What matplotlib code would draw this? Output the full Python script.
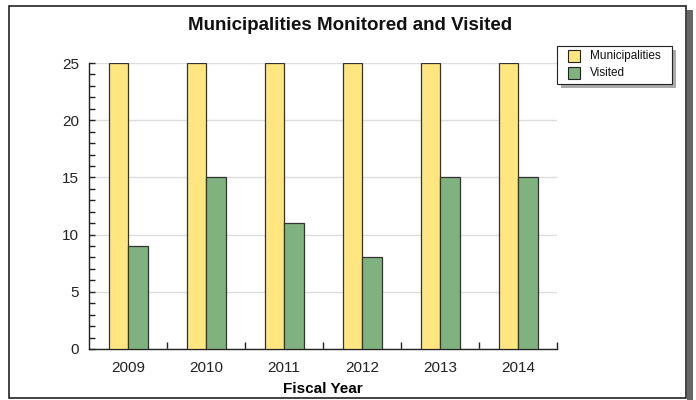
import numpy as np
import matplotlib
matplotlib.use("Agg")
import matplotlib.pyplot as plt
from matplotlib.patches import Rectangle

plt.rcParams['font.family'] = ['Liberation Sans', 'DejaVu Sans']

years = ['2009', '2010', '2011', '2012', '2013', '2014']
municipalities = [25, 25, 25, 25, 25, 25]
visited = [9, 15, 11, 8, 15, 15]

yellow = '#FFE680'
green = '#80B27F'

W, H = 696, 400
fig = plt.figure(figsize=(W / 100, H / 100), dpi=100)

# outer frame + shadow
fig.patches.append(Rectangle((687 / W, 0), 6 / W, 1 - 10 / H, transform=fig.transFigure,
                             facecolor='#666666', edgecolor='none', zorder=0))
fig.patches.append(Rectangle((9 / W, 2 / H), 677 / W, 392 / H, transform=fig.transFigure,
                             facecolor='white', edgecolor='#222222', lw=1.2, zorder=1))

ax = fig.add_axes([89 / W, 1 - 349 / H, 468 / W, 286 / H])
ax.set_zorder(2)
ax.patch.set_alpha(0)

x = np.arange(len(years))
w = 0.25
ax.bar(x - w / 2, municipalities, w, color=yellow, edgecolor='#333333', lw=0.9,
       label='Municipalities', zorder=3)
ax.bar(x + w / 2, visited, w, color=green, edgecolor='#333333', lw=0.9,
       label='Visited', zorder=3)

ax.set_xlim(-0.5, len(years) - 0.5)
ax.set_ylim(0, 25)
ax.set_yticks(np.arange(0, 26, 5))
ax.set_yticks(np.arange(0, 26, 1), minor=True)
ax.set_xticks(x)
ax.set_xticklabels(years)
ax.set_xticks(np.arange(0.5, len(years)), minor=True)
ax.tick_params(axis='x', which='major', length=0, labelsize=11, pad=9, colors='#222222')
ax.tick_params(axis='x', which='minor', direction='in', length=5, width=1, color='#222222')
ax.tick_params(axis='y', which='both', direction='in', length=4, width=1, color='#222222',
               labelsize=11, pad=7, labelcolor='#222222')
ax.grid(axis='y', color='#dddddd', lw=1, zorder=0)
for s in ['top', 'right']:
    ax.spines[s].set_visible(False)
for s in ['left', 'bottom']:
    ax.spines[s].set_color('#222222')
    ax.spines[s].set_linewidth(1)

ax.set_xlabel('Fiscal Year', fontsize=11, fontweight='bold', labelpad=5)
fig.text(350 / W, 1 - 26 / H, 'Municipalities Monitored and Visited', ha='center', va='center',
         fontsize=13.5, fontweight='bold', color='#111111')

# legend with shadow
fig.patches.append(Rectangle((561 / W, 1 - 88 / H), 115 / W, 38 / H, transform=fig.transFigure,
                             facecolor='#aaaaaa', edgecolor='none', zorder=3))
fig.patches.append(Rectangle((557 / W, 1 - 84 / H), 115 / W, 38 / H, transform=fig.transFigure,
                             facecolor='white', edgecolor='#222222', lw=0.8, zorder=4))
for i, (lab, c) in enumerate([('Municipalities', yellow), ('Visited', green)]):
    yc = 1 - (56 + i * 17) / H
    fig.patches.append(Rectangle((568 / W, yc - 6 / H), 12 / W, 12 / H, transform=fig.transFigure,
                                 facecolor=c, edgecolor='#222222', lw=0.8, zorder=5))
    fig.text(590 / W, yc, lab, ha='left', va='center', fontsize=8.5, color='#111111', zorder=6)

fig.savefig('out.png', dpi=100)
